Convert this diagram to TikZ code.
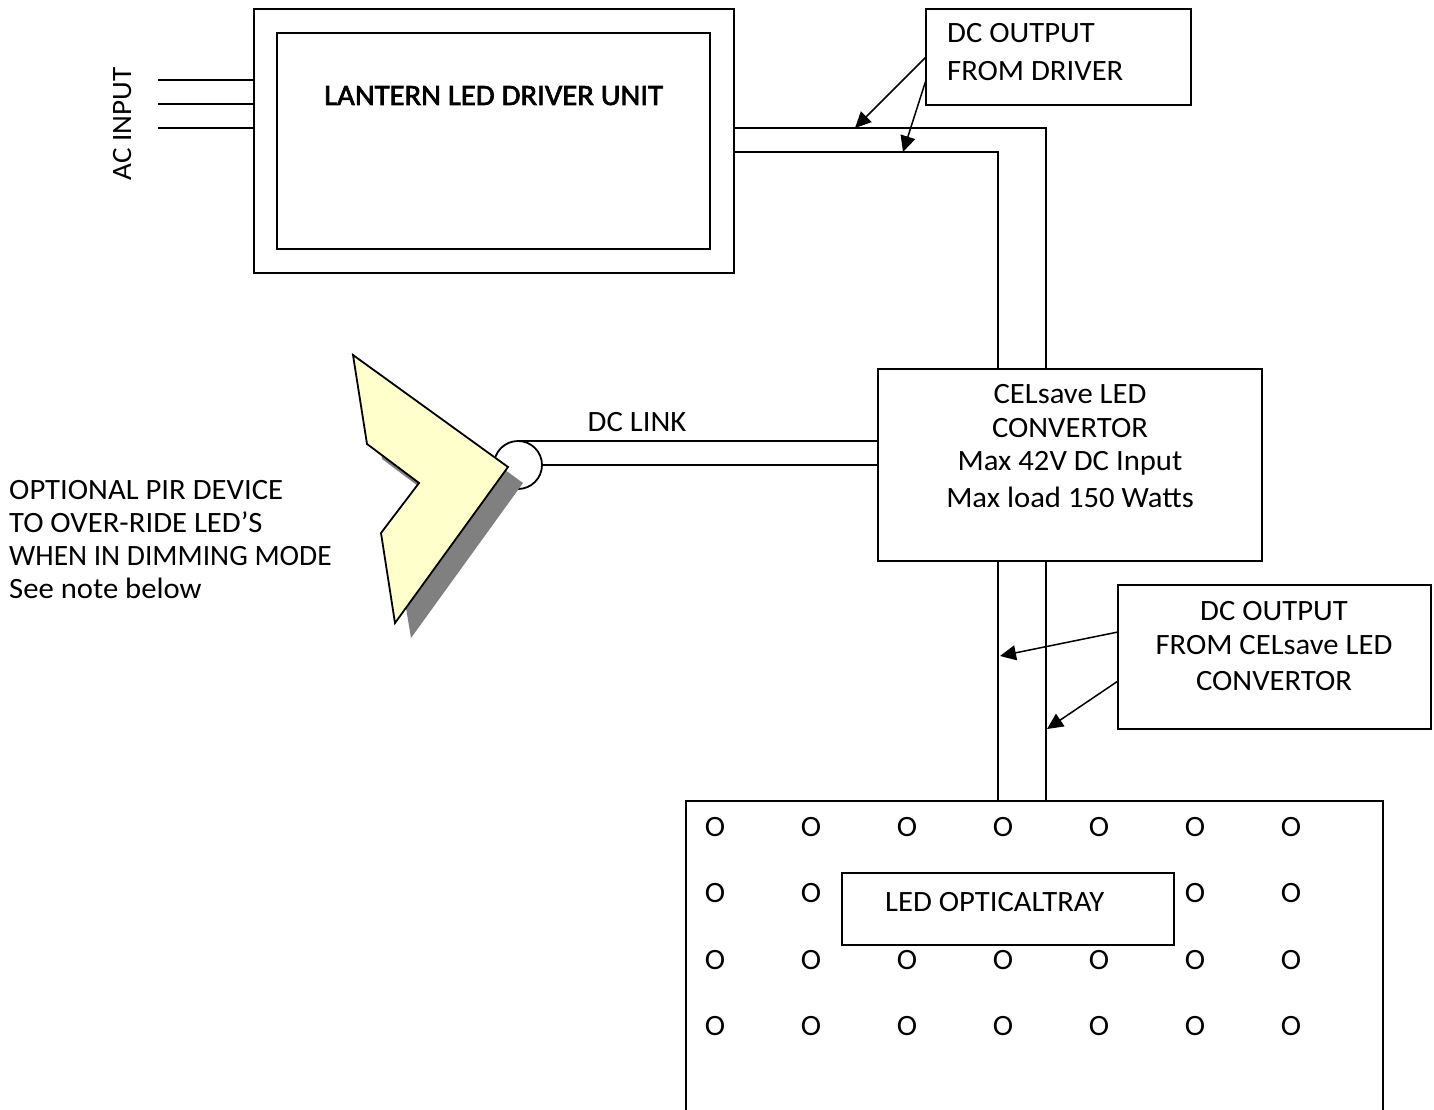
\documentclass[tikz,border=0pt]{standalone}
\usepackage{fontspec}
\setmainfont[FakeStretch=1.04]{Carlito}
\newfontfamily\heavyfont[FakeStretch=1.04,FakeBold=2.2]{Carlito}
\usetikzlibrary{arrows.meta}
\tikzset{
  wire/.style={line width=1.8pt,draw=black},
  pointer/.style={line width=1.5pt,draw=black,-{Triangle[length=16pt,width=15pt]}},
  frame/.style={draw=black,line width=1.8pt,fill=white},
  lbl/.style={font=\fontsize{29.5}{34}\selectfont,inner sep=0pt,text=black},
  squeezed/.style={lbl,transform shape,xscale=#1},
  ledmark/.style={font=\fontsize{29.5}{34}\selectfont,inner sep=0pt,text=black}
}
\begin{document}
\begin{tikzpicture}[x=1pt,y=-1pt]
\useasboundingbox (0,0) rectangle (1434,1110);
% boxes
\path[frame] (254,9) rectangle (734,273);
\path[frame] (277,33) rectangle (710,249);
\path[frame] (926,9) rectangle (1191,105);
\path[frame] (878,369) rectangle (1262,561);
\path[frame] (1118,585) rectangle (1431,729);
\path[frame] (686,801) rectangle (1383,1112);
% anchors
\coordinate (acA) at (158,80); \coordinate (acAe) at (254,80);
\coordinate (acB) at (158,104); \coordinate (acBe) at (254,104);
\coordinate (acC) at (158,128); \coordinate (acCe) at (254,128);
\coordinate (drvA) at (734,128); \coordinate (cnvA) at (1046,369);
\coordinate (drvB) at (734,152); \coordinate (cnvB) at (998,369);
\coordinate (cnvC) at (998,561); \coordinate (trayC) at (998,801);
\coordinate (cnvD) at (1046,561); \coordinate (trayD) at (1046,801);
\coordinate (pirA) at (518,441); \coordinate (cnvE) at (878,441);
\coordinate (pirB) at (542,465); \coordinate (cnvF) at (878,465);
\coordinate (noteA) at (926,57); \coordinate (tipA) at (855,128);
\coordinate (noteB) at (926,80); \coordinate (tipB) at (903,152);
\coordinate (noteC) at (1118,632); \coordinate (tipC) at (1000,656);
\coordinate (noteD) at (1118,681); \coordinate (tipD) at (1047,729);
% wires
\draw[wire] (acA) -- (acAe);
\draw[wire] (acB) -- (acBe);
\draw[wire] (acC) -- (acCe);
\draw[wire] (drvA) -| (cnvA);
\draw[wire] (drvB) -| (cnvB);
\draw[wire] (cnvC) -- (trayC);
\draw[wire] (cnvD) -- (trayD);
\draw[pointer] (noteA) -- (tipA);
\draw[pointer] (noteB) -- (tipB);
\draw[pointer] (noteC) -- (tipC);
\draw[pointer] (noteD) -- (tipD);
% PIR
\draw[wire] (pirA) -- (cnvE);
\draw[wire] (pirB) -- (cnvF);
\draw[wire,fill=white] (518,465) circle (24);
\fill[black!50] (368,370) -- (523,483) -- (411,638) -- (396,548) -- (434,498) -- (382,459) -- cycle;
\draw[wire,fill={rgb,255:red,255;green,255;blue,204},line join=miter]
  (353,355) -- (508,467) -- (395,623) -- (381,533) -- (419,483) -- (367,444) -- cycle;
% inner tray box
\path[frame] (842,873) rectangle (1174,945);
% text
\node[lbl,anchor=base west] (t1) at (324,105) {\heavyfont LANTERN LED DRIVER UNIT};
\node[lbl,anchor=base,rotate=90,font=\fontsize{28}{34}\selectfont] (t2) at (131,124) {AC INPUT};
\node[lbl,anchor=base west] (t3) at (947,43) {DC OUTPUT};
\node[lbl,anchor=base west] (t4) at (947,81) {FROM DRIVER};
\node[lbl,anchor=base] (t5) at (637,431) {DC LINK};
\node[lbl,anchor=base] (t6) at (1070,403) {CELsave LED};
\node[lbl,anchor=base] (t7) at (1070,437) {CONVERTOR};
\node[lbl,anchor=base] (t8) at (1070,470) {Max 42V DC Input};
\node[lbl,anchor=base] (t9) at (1070,507) {Max load 150 Watts};
\node[lbl,anchor=base west] (t10) at (9,499) {OPTIONAL PIR DEVICE};
\node[lbl,anchor=base west] (t11) at (9,532) {TO OVER-RIDE LED’S};
\node[squeezed=0.96,anchor=base west] (t12) at (9,565) {WHEN IN DIMMING MODE};
\node[lbl,anchor=base west] (t13) at (9,598) {See note below};
\node[lbl,anchor=base] (t14) at (1274,620) {DC OUTPUT};
\node[lbl,anchor=base] (t15) at (1274,654) {FROM CELsave LED};
\node[lbl,anchor=base] (t16) at (1274,690) {CONVERTOR};
\node[lbl,anchor=base west] (t17) at (885,911) {LED OPTICALTRAY};
% LED marks
\foreach \r/\yy in {a/836,b/902,c/969,d/1035}{
  \foreach \c/\xx in {1/715,2/811,3/907,4/1003,5/1099,6/1195,7/1291}{
    \ifnum\pdfstrcmp{\r\c}{b3}=0 \else\ifnum\pdfstrcmp{\r\c}{b4}=0 \else\ifnum\pdfstrcmp{\r\c}{b5}=0 \else
    \node[ledmark,anchor=base] (led\r\c) at (\xx,\yy) {O};
    \fi\fi\fi
  }
}
\end{tikzpicture}
\end{document}
